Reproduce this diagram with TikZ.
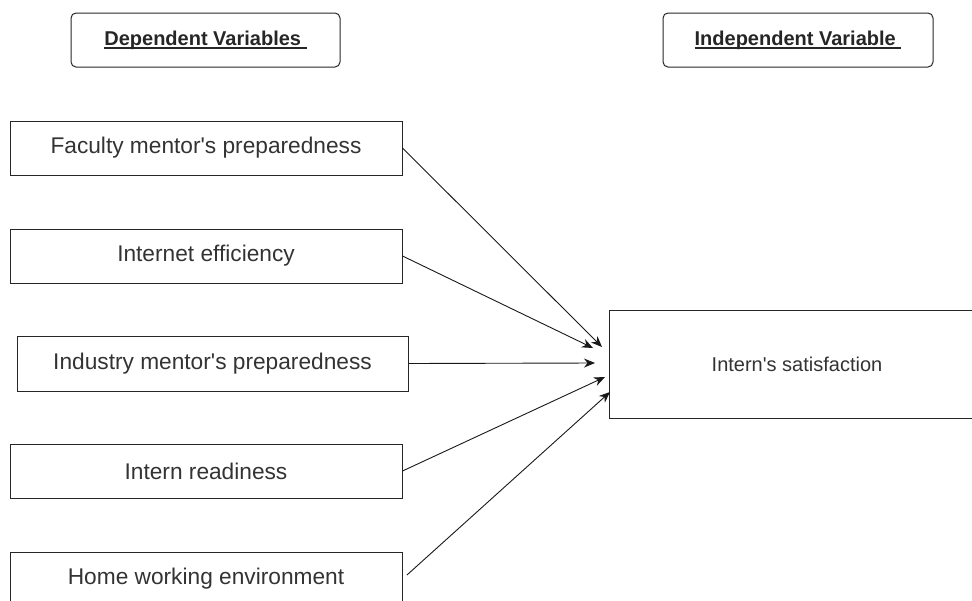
\documentclass[tikz,border=0pt]{standalone}
\usepackage{fontspec}
\setmainfont{Liberation Sans}
\usepackage{tikz}
\usetikzlibrary{positioning,arrows.meta}

\newcommand{\headul}[1]{\setbox0=\hbox{#1}\rlap{\rule[-0.17em]{\wd0}{0.07em}}\box0}

\begin{document}
\begin{tikzpicture}[x=1pt, y=-1pt, line width=1pt,
    headbox/.style={draw=black!85, rounded corners=5pt, minimum width=269pt, minimum height=54pt, inner sep=0pt, text=black!85, font=\bfseries\fontsize{20}{24}\selectfont},
    varbox/.style={draw=black!85, minimum width=392pt, minimum height=54pt, inner sep=0pt, text=black!80, font=\fontsize{22.7}{27}\selectfont},
    linkarrow/.style={draw=black!90, line width=0.9pt, -{Stealth[length=11pt, width=9pt]}}]
    \useasboundingbox (0,0) rectangle (972,600);

    \node[headbox] (dephead) at (205.5,40) {\headul{Dependent Variables\ }};
    \node[headbox, minimum width=270pt] (indhead) at (798,40) {\headul{Independent Variable\ }};

    \node[varbox] (faculty) at (206,148) {Faculty mentor\textquotesingle s preparedness};
    \node[varbox] (internet) at (206,256) {Internet efficiency};
    \node[varbox, minimum width=391pt, minimum height=55pt] (industry) at (212.5,363.5) {Industry mentor\textquotesingle s preparedness};
    \node[varbox] (readiness) at (206,471) {Intern readiness};
    \node[varbox] (home) at (206,579) {Home working environment};

    \node[draw=black!85, minimum width=376pt, minimum height=108pt, inner sep=0pt, text=black!80, font=\fontsize{20}{24}\selectfont] (satisfaction) at (797,364) {Intern\textquotesingle s satisfaction};

    \coordinate (in1) at (602,347);
    \coordinate (in2) at (593,348);
    \coordinate (in3) at (595,363);
    \coordinate (in4) at (605,377);
    \coordinate (in5) at (610,392);

    \draw[linkarrow] (faculty.east) -- (in1);
    \draw[linkarrow] (internet.east) -- (in2);
    \draw[linkarrow] (industry.east) -- (in3);
    \draw[linkarrow] (readiness.east) -- (in4);
    \draw[linkarrow, shorten <=6pt] (home.east) -- (in5);
\end{tikzpicture}
\end{document}
